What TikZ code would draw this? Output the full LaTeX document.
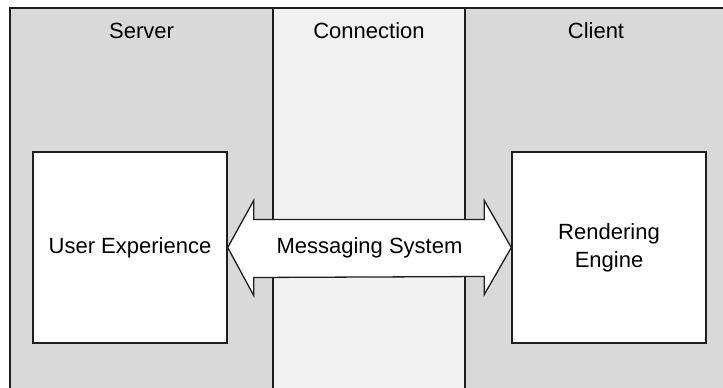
\documentclass[tikz,border=0pt]{standalone}
\usepackage{fontspec}
\setmainfont{Liberation Sans}
\usetikzlibrary{calc}
\definecolor{lanegray}{HTML}{D9D9D9}
\definecolor{lanelight}{HTML}{F2F2F2}
\definecolor{inkline}{HTML}{1E1E1E}
\tikzset{
  lane/.style={draw=inkline, line width=1.5pt},
  lanelabel/.style={anchor=base, inner sep=0pt, font=\fontsize{22}{28}\selectfont},
  compbox/.style={draw=inkline, fill=white, line width=1.4pt, minimum width=194pt, minimum height=191pt, inner sep=0pt, align=center, font=\fontsize{22}{28}\selectfont},
  arrowshape/.style={draw=inkline, fill=white, line width=1.3pt, line join=miter},
  msglabel/.style={inner sep=0pt, font=\fontsize{22}{28}\selectfont}
}
\begin{document}
\begin{tikzpicture}[x=1pt, y=-1pt]
\useasboundingbox (0,0) rectangle (723,388);
\clip (0,0) rectangle (723,388);
% lanes
\fill[lanegray] (10,8) rectangle (273,395);
\fill[lanelight] (273,8) rectangle (465,395);
\fill[lanegray] (465,8) rectangle (730,395);
\draw[lane] (10,395) -- (10,8) -- (730,8);
\draw[lane] (273,8) -- (273,395);
\draw[lane] (465,8) -- (465,395);
% lane titles
\node[lanelabel] (server) at (141.5,38.5) {Server};
\node[lanelabel] (conn) at (369,38.5) {Connection};
\node[lanelabel] (client) at (596,38.5) {Client};
% components
\node[compbox] (ue) at (130,247.5) {User Experience};
\node[compbox] (re) at (609,247.5) {Rendering\\Engine};
% double arrow
\draw[arrowshape] (ue.east) -- ++(26,-47) -- ++(0,19)
  -- ($(re.west)+(-27,-28)$) -- ++(0,-19) -- (re.west)
  -- ++(-27,47) -- ++(0,-18) -- ($(ue.east)+(26,30)$) -- ++(0,18) -- cycle;
\path (ue.east) -- (re.west) node[midway, msglabel] (msg) {Messaging System};
\end{tikzpicture}
\end{document}
